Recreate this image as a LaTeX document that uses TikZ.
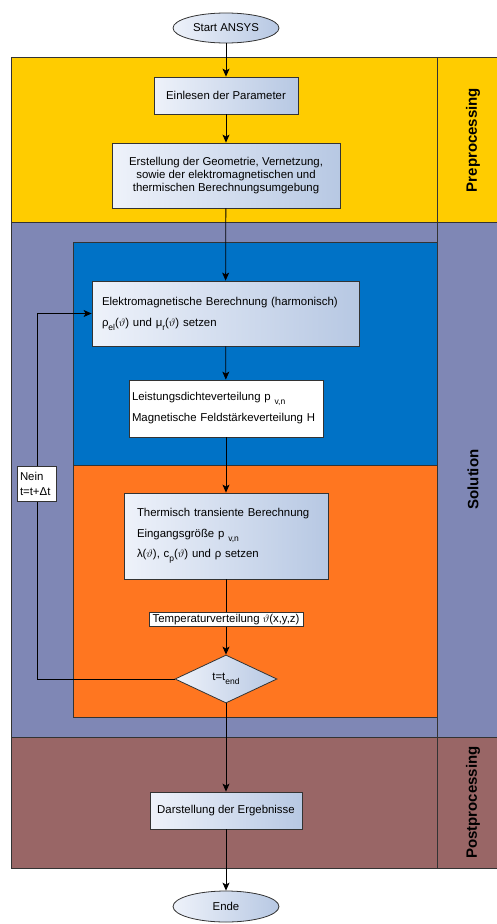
\documentclass[tikz,border=0pt]{standalone}
\usepackage{fontspec}
\setmainfont{Liberation Sans}
\usetikzlibrary{shapes.geometric,arrows.meta}
\definecolor{preY}{HTML}{FFCC00}
\definecolor{solL}{HTML}{7F87B5}
\definecolor{emB}{HTML}{0072C6}
\definecolor{thO}{HTML}{FF7620}
\definecolor{postR}{HTML}{996666}
\definecolor{boxL}{HTML}{EEF2FA}
\definecolor{boxR}{HTML}{B7C8E3}
\definecolor{edgeC}{HTML}{333333}
\newcommand{\lowsub}[1]{\raisebox{-4pt}{\fontsize{8.5}{8.5}\selectfont #1}}
\begin{document}
\begin{tikzpicture}[x=1pt,y=-1pt,
  font=\fontsize{11.4}{13}\selectfont,
  lane/.style={draw=edgeC, line width=0.8pt},
  lanelabel/.style={rotate=90, font=\fontsize{15}{18}\selectfont\bfseries},
  flowbox/.style={draw=edgeC, line width=0.8pt, left color=boxL, right color=boxR, inner sep=0pt, align=center},
  whitebox/.style={draw=edgeC, line width=0.8pt, fill=white, inner sep=0pt},
  term/.style={ellipse, draw=edgeC, line width=0.8pt, left color=boxL, right color=boxR, inner sep=0pt, minimum width=106pt, minimum height=30pt},
  decision/.style={diamond, draw=edgeC, line width=0.8pt, left color=boxL, right color=boxR, inner sep=0pt, minimum width=102pt, minimum height=48pt},
  flowarrow/.style={line width=0.8pt, -{Stealth[length=8pt,width=7pt,inset=2pt]}},
  edgelabel/.style={draw=edgeC, line width=0.6pt, fill=white, inner xsep=3.5pt, inner ysep=1.5pt}
]
\useasboundingbox (0,0) rectangle (496,924);
% lanes
\fill[preY] (11,57.5) rectangle (497,222);
\fill[solL] (11,222) rectangle (497,737);
\fill[postR] (11,737) rectangle (497,868);
\fill[emB] (73,242.5) rectangle (437,465);
\fill[thO] (73,465) rectangle (437,717);
\draw[lane] (11,57.5) rectangle (497,222);
\draw[lane] (11,222) rectangle (497,737);
\draw[lane] (11,737) rectangle (497,868);
\draw[lane] (73,242.5) rectangle (437,465);
\draw[lane] (73,465) rectangle (437,717);
\draw[lane] (437,57.5) -- (437,868);
\node[lanelabel] (lpre) at (473,140) {Preprocessing};
\node[lanelabel] (lsol) at (473,479.5) {Solution};
\node[lanelabel] (lpost) at (473,802.5) {Postprocessing};
% nodes
\node[term] (start) at (226,28) {Start ANSYS};
\node[flowbox, minimum width=144pt, minimum height=37pt] (einlesen) at (226,95.5) {Einlesen der Parameter};
\node[flowbox, minimum width=228pt, minimum height=65pt] (erstellung) at (226,175.5) {Erstellung der Geometrie, Vernetzung,\\sowie der elektromagnetischen und\\thermischen Berechnungsumgebung};
\node[flowbox, minimum width=267pt, minimum height=65pt, text width=247pt, inner xsep=10pt, align=left, font=\fontsize{11.4}{21}\selectfont] (elektro) at (225.5,313.5) {Elektromagnetische Berechnung (harmonisch)\\ρ\lowsub{el}($\vartheta$) und μ\lowsub{r}($\vartheta$) setzen};
\node[whitebox, minimum width=194pt, minimum height=57pt, text width=188pt, inner xsep=3pt, align=left, font=\fontsize{11.4}{21}\selectfont] (leistung) at (226,408.5) {Leistungsdichteverteilung p \lowsub{v,n}\\Magnetische Feldstärkeverteilung H};
\node[flowbox, minimum width=204pt, minimum height=86pt, text width=178pt, inner xsep=13pt, align=left, font=\fontsize{11.4}{20.5}\selectfont] (thermisch) at (226,536) {Thermisch transiente Berechnung\\Eingangsgröße p \lowsub{v,n}\\λ($\vartheta$), c\lowsub{p}($\vartheta$) und ρ setzen};
\node[decision] (dia) at (226,679) {t=t\lowsub{end}};
\node[flowbox, minimum width=152pt, minimum height=37pt] (darst) at (226,810.5) {Darstellung der Ergebnisse};
\node[term, minimum height=31pt] (ende) at (226,906.5) {Ende};
% connectors
\draw[flowarrow] (start) -- (einlesen);
\draw[flowarrow] (einlesen) -- (erstellung);
\draw[flowarrow] (erstellung) -- (elektro);
\draw[flowarrow] (elektro) -- (leistung);
\draw[flowarrow] (leistung) -- (thermisch);
\draw[flowarrow] (thermisch) -- node[edgelabel, pos=0.53] (temp) {Temperaturverteilung $\vartheta$(x,y,z)} (dia);
\draw[flowarrow] (dia) -- (darst);
\draw[flowarrow] (darst) -- (ende);
\coordinate (loopb) at (37,679);
\draw[flowarrow] (dia.west) -- (loopb) |- (elektro.west);
\node[edgelabel, text width=33pt, inner xsep=3pt, minimum height=35pt, align=left, font=\fontsize{11.4}{15}\selectfont] (nein) at (36.5,483.5) {Nein\\t=t+Δt};
\end{tikzpicture}
\end{document}
